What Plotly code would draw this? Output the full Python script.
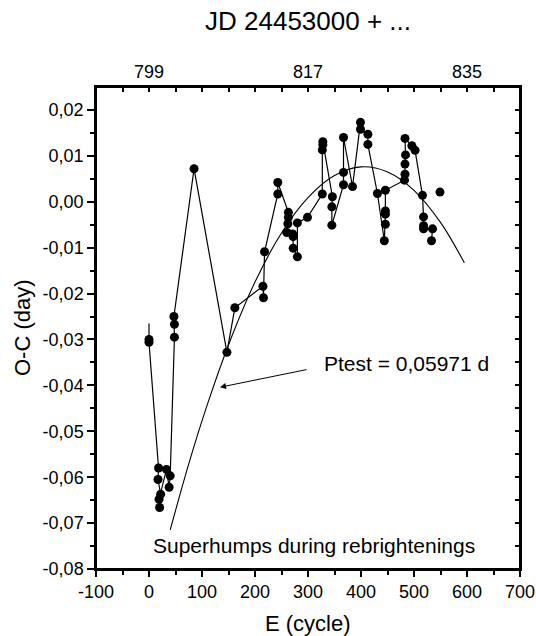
import plotly.graph_objects as go

# Observed O-C values (cycle number E, O-C in days), in connection order
E = [0, 0, 18, 17, 22, 20, 19, 33, 38, 40, 48, 48, 47, 85, 147, 162, 215, 216, 218,
     243, 243, 263, 263, 262, 260, 271, 272, 272, 280, 280, 299, 327, 327, 328, 328,
     346, 345, 345, 367, 367, 367, 384, 399, 399, 413, 413, 431, 444, 446, 446, 446,
     446, 482, 483, 483, 484, 483, 496, 502, 516, 518, 518, 518, 535, 533, 549]
OC = [-0.0300, -0.0306, -0.0580, -0.0605, -0.0637, -0.0666, -0.0648, -0.0583, -0.0622,
      -0.0597, -0.0295, -0.0267, -0.0250, 0.0072, -0.0328, -0.0231, -0.0184, -0.0209,
      -0.0109, 0.0017, 0.0042, -0.0023, -0.0034, -0.0048, -0.0067, -0.0070, -0.0076,
      -0.0101, -0.0120, -0.0046, -0.0034, 0.0017, 0.0113, 0.0124, 0.0131, 0.0011,
      -0.0011, -0.0051, 0.0037, 0.0064, 0.0140, 0.0033, 0.0173, 0.0158, 0.0147, 0.0125,
      0.0018, -0.0085, -0.0049, -0.0027, -0.0020, 0.0025, 0.0047, 0.0060, 0.0082,
      0.0102, 0.0138, 0.0122, 0.0112, 0.0014, -0.0033, -0.0052, -0.0059, -0.0059,
      -0.0085, 0.0021]

# short line stub above the first point
tail_E = [0, 0]
tail_OC = [-0.0265, -0.0300]

# fitted curve
fit_E = [40, 75, 110, 150, 200, 250, 300, 350, 400, 450, 500, 550, 595]
fit_OC = [-0.0715, -0.0571, -0.0442, -0.0312, -0.0175, -0.0068, 0.0009, 0.0057,
          0.0076, 0.0065, 0.0025, -0.0045, -0.0133]

# axis ticks
x_ticks = [-100, 0, 100, 200, 300, 400, 500, 600, 700]
x_ticktext = ["-100", "0", "100", "200", "300", "400", "500", "600", "700"]
x_minor = [-50, 50, 150, 250, 350, 450, 550, 650]
top_ticks = [-100, -50, 0, 50, 100, 150, 200, 250, 300, 350, 400, 450, 500, 550, 600, 650, 700]
top_ticktext = ["", "", "799", "", "", "", "", "", "817", "", "", "", "", "", "835", "", ""]
y_ticks = [-0.08, -0.07, -0.06, -0.05, -0.04, -0.03, -0.02, -0.01, 0.0, 0.01, 0.02]
y_ticktext = ["-0,08", "-0,07", "-0,06", "-0,05", "-0,04", "-0,03", "-0,02", "-0,01",
              "0,00", "0,01", "0,02"]
y_minor = [-0.075, -0.065, -0.055, -0.045, -0.035, -0.025, -0.015, -0.005, 0.005, 0.015]
right_ticks = [-0.08, -0.075, -0.07, -0.065, -0.06, -0.055, -0.05, -0.045, -0.04, -0.035,
               -0.03, -0.025, -0.02, -0.015, -0.01, -0.005, 0.0, 0.005, 0.01, 0.015, 0.02]

FONT = "Liberation Sans, Arial, sans-serif"
XR = [-100, 700]
YR = [-0.08, 0.025]

fig = go.Figure()
fig.add_trace(go.Scatter(x=tail_E, y=tail_OC, mode="lines",
                         line=dict(color="black", width=1.2), hoverinfo="skip"))
fig.add_trace(go.Scatter(x=E[:-1], y=OC[:-1], mode="lines",
                         line=dict(color="black", width=1.2), hoverinfo="skip"))
fig.add_trace(go.Scatter(x=E, y=OC, mode="markers",
                         marker=dict(color="black", size=9)))
fig.add_trace(go.Scatter(x=fit_E, y=fit_OC, mode="lines", xaxis="x2", yaxis="y2",
                         line=dict(color="black", width=1.1, shape="spline"),
                         hoverinfo="skip"))

axis_common = dict(showline=True, linecolor="black", linewidth=1.5, showgrid=False,
                   zeroline=False, tickcolor="black", tickwidth=1.5)

fig.update_layout(
    width=536, height=636,
    margin=dict(l=96, r=16, t=87, b=67),
    paper_bgcolor="white", plot_bgcolor="rgba(0,0,0,0)",
    showlegend=False,
    font=dict(family=FONT, color="black", size=18),
    xaxis=dict(range=XR, tickmode="array", tickvals=x_ticks, ticktext=x_ticktext,
               ticks="outside", ticklen=6, tickfont=dict(size=18), mirror=True,
               automargin=False,
               minor=dict(tickvals=x_minor, ticks="outside", ticklen=4,
                          tickwidth=1.5, tickcolor="black", showgrid=False),
               **axis_common),
    xaxis2=dict(range=XR, overlaying="x", side="top", anchor="y", automargin=False,
                tickmode="array", tickvals=top_ticks, ticktext=top_ticktext,
                ticks="inside", ticklen=5, tickfont=dict(size=18),
                **axis_common),
    yaxis=dict(range=YR, tickmode="array", tickvals=y_ticks, ticktext=y_ticktext,
               ticks="outside", ticklen=7, tickfont=dict(size=18), mirror=True,
               automargin=False,
               minor=dict(tickvals=y_minor, ticks="outside", ticklen=4,
                          tickwidth=1.5, tickcolor="black", showgrid=False),
               **axis_common),
    yaxis2=dict(range=YR, overlaying="y", side="right", anchor="x", automargin=False,
                tickmode="array", tickvals=right_ticks, showticklabels=False,
                ticks="inside", ticklen=5, **axis_common),
    shapes=[dict(type="rect", xref="paper", yref="paper", x0=0, x1=1, y0=0, y1=1,
                 line=dict(color="black", width=2), fillcolor="rgba(0,0,0,0)",
                 layer="above")],
)

# titles
fig.add_annotation(x=0.5, y=1.137, xref="paper", yref="paper", text="JD 24453000 + ...",
                   showarrow=False, xanchor="center", yanchor="middle",
                   font=dict(size=26, family=FONT, color="black"))
fig.add_annotation(x=0.5, y=-0.113, xref="paper", yref="paper", text="E (cycle)",
                   showarrow=False, xanchor="center", yanchor="middle",
                   font=dict(size=22, family=FONT, color="black"))
fig.add_annotation(x=-0.1745, y=0.5, xref="paper", yref="paper", text="O-C (day)",
                   showarrow=False, xanchor="center", yanchor="middle", textangle=-90,
                   font=dict(size=22, family=FONT, color="black"))

fig.add_annotation(x=134, y=-0.0404, ax=300, ay=-0.0365, axref="x", ayref="y",
                   xref="x", yref="y", text="", showarrow=True,
                   arrowhead=2, arrowsize=1.2, arrowwidth=1, arrowcolor="black")
fig.add_annotation(x=326, y=-0.0352, xref="x", yref="y", text="Ptest = 0,05971 d",
                   showarrow=False, xanchor="left", yanchor="middle",
                   font=dict(size=21, family=FONT, color="black"))
fig.add_annotation(x=311, y=-0.0748, xref="x", yref="y",
                   text="Superhumps during rebrightenings",
                   showarrow=False, xanchor="center", yanchor="middle",
                   font=dict(size=21, family=FONT, color="black"))

fig.write_html("out.html", config={"displayModeBar": False},
               post_script="document.body.style.margin='0';document.body.style.padding='0';")
